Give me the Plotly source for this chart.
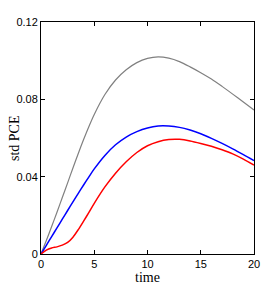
import plotly.graph_objects as go

t = [0, 0.5, 1, 1.5, 2, 2.5, 3, 3.5, 4, 4.5, 5, 6, 7, 8, 9, 10, 11, 12, 13, 14, 15, 16, 17, 18, 19, 20]
gray_std = [0, 0.0070, 0.0142, 0.0216, 0.0292, 0.0368, 0.0445, 0.0520, 0.0592, 0.0660, 0.0722,
            0.0825, 0.0900, 0.0953, 0.0990, 0.1012, 0.1020, 0.1013, 0.0995, 0.0968, 0.0938,
            0.0905, 0.0867, 0.0827, 0.0786, 0.0745]
blue_std = [0, 0.0045, 0.0090, 0.0135, 0.0180, 0.0225, 0.0270, 0.0314, 0.0357, 0.0399, 0.0440,
            0.0510, 0.0565, 0.0605, 0.0633, 0.0652, 0.0662, 0.0662, 0.0655, 0.0641, 0.0622,
            0.0598, 0.0572, 0.0544, 0.0514, 0.0483]
red_std = [0, 0.0020, 0.0031, 0.0037, 0.0046, 0.0060, 0.0087, 0.0126, 0.0170, 0.0215, 0.0262,
           0.0347, 0.0418, 0.0477, 0.0525, 0.0560, 0.0581, 0.0592, 0.0593, 0.0585, 0.0572,
           0.0557, 0.0539, 0.0518, 0.0491, 0.0460]

x_ticks = [0, 5, 10, 15, 20]
y_ticks = [0, 0.04, 0.08, 0.12]
y_tick_labels = ["0", "0.04", "0.08", "0.12"]

fig = go.Figure()
fig.add_trace(go.Scatter(x=t, y=gray_std, mode="lines",
                         line=dict(color="#808080", width=1.2, shape="spline", smoothing=0.8)))
fig.add_trace(go.Scatter(x=t, y=blue_std, mode="lines",
                         line=dict(color="#0000ff", width=1.5, shape="spline", smoothing=0.8)))
fig.add_trace(go.Scatter(x=t, y=red_std, mode="lines",
                         line=dict(color="#ff0000", width=1.5, shape="spline", smoothing=0.8)))

axis_common = dict(showline=True, linecolor="black", linewidth=1, mirror="ticks",
                   ticks="inside", ticklen=4, tickcolor="black", showgrid=False, zeroline=False,
                   automargin=False,
                   tickfont=dict(family="Liberation Sans, Arial, sans-serif", size=11, color="black"))

title_font = dict(family="Liberation Serif, Times New Roman, serif", size=14, color="black")

fig.update_xaxes(range=[0, 20], tickvals=x_ticks, ticktext=[str(v) for v in x_ticks],
                 title=dict(text="time", font=title_font, standoff=0), **axis_common)
fig.update_yaxes(range=[0, 0.12], tickvals=y_ticks, ticktext=y_tick_labels, **axis_common)

fig.add_annotation(text="std PCE", textangle=-90, xref="paper", yref="paper",
                   x=0, y=0.5, xanchor="center", yanchor="middle", xshift=-27,
                   showarrow=False, font=title_font)

fig.update_layout(width=274, height=287, margin=dict(l=41, r=20, t=22, b=33),
                  plot_bgcolor="white", paper_bgcolor="white", showlegend=False)

fig.write_html("out.html", config={"displayModeBar": False},
               post_script="document.body.style.margin='0px';document.body.style.padding='0px';")
